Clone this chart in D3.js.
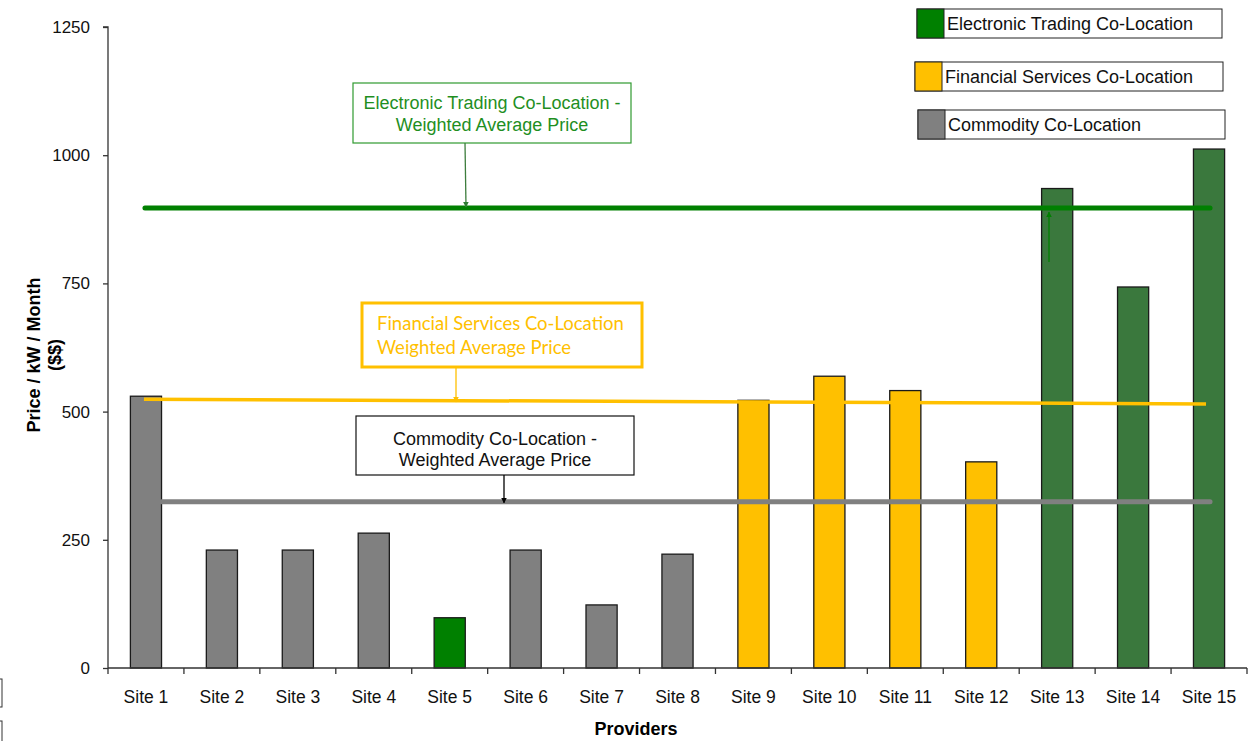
<!DOCTYPE html>
<html>
<head>
<meta charset="utf-8">
<script src="https://cdn.jsdelivr.net/npm/d3@7"></script>
<style>
  body { margin: 0; background: #fff; }
  svg { font-family: "Liberation Sans", Arial, sans-serif; }
</style>
</head>
<body>
<svg id="chart" width="1258" height="741"></svg>
<script>
// chart data
var sites = ["Site 1", "Site 2", "Site 3", "Site 4", "Site 5", "Site 6", "Site 7", "Site 8",
             "Site 9", "Site 10", "Site 11", "Site 12", "Site 13", "Site 14", "Site 15"];
var prices = [530, 230, 230, 263, 98, 230, 123, 222, 522, 569, 541, 402, 935, 743, 1012];
var siteType = ["com", "com", "com", "com", "et5", "com", "com", "com",
                "fin", "fin", "fin", "fin", "et", "et", "et"];
var yTicks = [0, 250, 500, 750, 1000, 1250];

var legendNames = ["Electronic Trading Co-Location", "Financial Services Co-Location", "Commodity Co-Location"];
// weighted average lines: start / end value
var avgElectronic = [897, 897];
var avgFinancial = [524, 515];
var avgCommodity = [324, 324];

var colors = { com: "#808080", fin: "#ffc000", et: "#3a783d", et5: "#008000" };
var legendColors = ["#008000", "#ffc000", "#808080"];

var svg = d3.select("#chart");
var margin = { top: 27, right: 11, bottom: 73, left: 108 };
var width = 1258, height = 741;
var FONT = "Liberation Sans, Arial, sans-serif";

var x = d3.scaleBand()
    .domain(sites)
    .range([margin.left, width - margin.right])
    .paddingInner(0.59)
    .paddingOuter(0.295);

var y = d3.scaleLinear()
    .domain([0, 1250])
    .range([height - margin.bottom, margin.top]);

var defs = svg.append("defs");
function marker(id, color) {
    defs.append("marker")
        .attr("id", id)
        .attr("viewBox", "0 0 10 10")
        .attr("refX", 9).attr("refY", 5)
        .attr("markerWidth", 4.5).attr("markerHeight", 4.5)
        .attr("orient", "auto")
        .append("path")
        .attr("d", "M0,0 L10,5 L0,10 Z")
        .attr("fill", color);
}
marker("arrGreen", "#2e7d32");
marker("arrGreen2", "#008000");
marker("arrYellow", "#ffc000");
marker("arrBlack", "#000");

// bars
svg.append("g").selectAll("rect")
    .data(sites)
    .enter()
    .append("rect")
    .attr("x", d => x(d))
    .attr("y", (d, i) => y(prices[i]))
    .attr("width", x.bandwidth())
    .attr("height", (d, i) => y(0) - y(prices[i]))
    .attr("fill", (d, i) => colors[siteType[i]])
    .attr("stroke", "#1a1a1a")
    .attr("stroke-width", 1.3);

// y axis
var yAxis = d3.axisLeft(y).tickValues(yTicks).tickFormat(d3.format("d")).tickSize(5).tickPadding(13);
var gy = svg.append("g")
    .attr("transform", `translate(${margin.left},0)`)
    .call(yAxis);
gy.select(".domain").attr("stroke", "#333").attr("stroke-width", 1.3)
    .attr("d", `M-5,${y(1250)}H0V${y(0)}`);
gy.selectAll(".tick line").attr("stroke", "#333").attr("stroke-width", 1.3);
gy.selectAll(".tick text").attr("font-size", 17).attr("fill", "#111")
    .attr("font-family", FONT);

// x axis: ticks between categories
var step = x.step();
var boundaries = d3.range(sites.length + 1).map(i => margin.left + i * step);
var gx = svg.append("g");
gx.append("line")
    .attr("x1", margin.left).attr("x2", width - margin.right)
    .attr("y1", y(0)).attr("y2", y(0))
    .attr("stroke", "#333").attr("stroke-width", 1.3);
gx.selectAll(".tk")
    .data(boundaries)
    .enter()
    .append("line")
    .attr("x1", d => d).attr("x2", d => d)
    .attr("y1", y(0)).attr("y2", y(0) + 6)
    .attr("stroke", "#333").attr("stroke-width", 1.3);
gx.selectAll(".lbl")
    .data(sites)
    .enter()
    .append("text")
    .attr("x", d => x(d) + x.bandwidth() / 2)
    .attr("y", y(0) + 35)
    .attr("text-anchor", "middle")
    .attr("font-size", 17.5)
    .attr("fill", "#111")
    .text(d => d);

// axis titles
svg.append("text")
    .attr("x", 636).attr("y", 735)
    .attr("text-anchor", "middle")
    .attr("font-size", 18).attr("font-weight", "bold")
    .text("Providers");
svg.append("text")
    .attr("transform", "translate(40,355) rotate(-90)")
    .attr("text-anchor", "middle")
    .attr("font-size", 18).attr("font-weight", "bold")
    .text("Price / kW / Month");
svg.append("text")
    .attr("transform", "translate(61,355) rotate(-90)")
    .attr("text-anchor", "middle")
    .attr("font-size", 18).attr("font-weight", "bold")
    .text("($$)");

// weighted average lines
var firstC = x(sites[0]) + x.bandwidth() / 2;
var lastC = x(sites[sites.length - 1]) + x.bandwidth() / 2;
svg.append("line")
    .attr("x1", firstC - 1).attr("x2", lastC + 1)
    .attr("y1", y(avgElectronic[0])).attr("y2", y(avgElectronic[1]))
    .attr("stroke", "#008000").attr("stroke-width", 5).attr("stroke-linecap", "round");
svg.append("line")
    .attr("x1", firstC - 2).attr("x2", lastC - 3)
    .attr("y1", y(avgFinancial[0])).attr("y2", y(avgFinancial[1]))
    .attr("stroke", "#ffc000").attr("stroke-width", 3.5);
svg.append("line")
    .attr("x1", x(sites[0]) + x.bandwidth()).attr("x2", lastC + 1)
    .attr("y1", y(avgCommodity[0])).attr("y2", y(avgCommodity[1]))
    .attr("stroke", "#808080").attr("stroke-width", 5).attr("stroke-linecap", "round");

// annotation callouts
function callout(o) {
    var g = svg.append("g");
    g.append("rect")
        .attr("x", o.x).attr("y", o.y).attr("width", o.w).attr("height", o.h)
        .attr("fill", "#fff").attr("stroke", o.stroke).attr("stroke-width", o.sw);
    o.lines.forEach(function(t, i) {
        g.append("text")
            .attr("x", o.anchor === "start" ? o.x + 15 : o.x + o.w / 2)
            .attr("y", o.y + o.ty + i * o.lh)
            .attr("text-anchor", o.anchor)
            .attr("font-size", o.fs)
            .attr("font-family", o.font)
            .attr("fill", o.color)
            .text(t);
    });
    g.append("line")
        .attr("x1", o.ax).attr("x2", o.ax2)
        .attr("y1", o.y + o.h).attr("y2", o.ay)
        .attr("stroke", o.arrowColor).attr("stroke-width", 1.3)
        .attr("marker-end", "url(#" + o.marker + ")");
}

callout({ x: 353, y: 83, w: 278, h: 60, stroke: "#2f9a2f", sw: 1.2,
    lines: ["Electronic Trading Co-Location -", "Weighted Average Price"],
    ty: 26, lh: 22, anchor: "middle", fs: 18, font: FONT,
    color: "#1f8f1f", ax: 465, ax2: 466, ay: y(avgElectronic[0]) - 1,
    arrowColor: "#3d7d3d", marker: "arrGreen" });

callout({ x: 362, y: 303, w: 280, h: 64, stroke: "#ffc000", sw: 3,
    lines: ["Financial Services Co-Location", "Weighted Average Price"],
    ty: 27, lh: 24, anchor: "start", fs: 18.5, font: "Lato, Carlito, sans-serif",
    color: "#ffc000", ax: 456, ax2: 456, ay: 402,
    arrowColor: "#ffc000", marker: "arrYellow" });

callout({ x: 356, y: 416, w: 278, h: 59, stroke: "#111", sw: 1.2,
    lines: ["Commodity Co-Location -", "Weighted Average Price"],
    ty: 29, lh: 21, anchor: "middle", fs: 18, font: FONT,
    color: "#111", ax: 504, ax2: 504, ay: y(avgCommodity[0]) + 1,
    arrowColor: "#000", marker: "arrBlack" });

// small arrow at site 13
svg.append("line")
    .attr("x1", 1049).attr("x2", 1049)
    .attr("y1", 262).attr("y2", y(avgElectronic[0]) + 4)
    .attr("stroke", "#008000").attr("stroke-width", 1.3)
    .attr("marker-end", "url(#arrGreen2)");

// legend
var legendPos = [{ x: 917, y: 9, w: 305 }, { x: 915, y: 62, w: 308 }, { x: 918, y: 110, w: 307 }];
var lg = svg.append("g").selectAll("g")
    .data(legendNames)
    .enter()
    .append("g");
lg.append("rect")
    .attr("x", (d, i) => legendPos[i].x).attr("y", (d, i) => legendPos[i].y)
    .attr("width", (d, i) => legendPos[i].w).attr("height", 29)
    .attr("fill", "#fff").attr("stroke", "#222").attr("stroke-width", 1);
lg.append("rect")
    .attr("x", (d, i) => legendPos[i].x).attr("y", (d, i) => legendPos[i].y)
    .attr("width", 27).attr("height", 29)
    .attr("fill", (d, i) => legendColors[i]).attr("stroke", "#222").attr("stroke-width", 1);
lg.append("text")
    .attr("x", (d, i) => legendPos[i].x + 30)
    .attr("y", (d, i) => legendPos[i].y + 21)
    .attr("font-size", 18)
    .attr("fill", "#111")
    .text(d => d);

// clipped box edges at the bottom-left
svg.append("rect").attr("x", -10).attr("y", 679).attr("width", 12).attr("height", 28)
    .attr("fill", "none").attr("stroke", "#333");
svg.append("rect").attr("x", -10).attr("y", 721).attr("width", 12).attr("height", 28)
    .attr("fill", "none").attr("stroke", "#333");
</script>
</body>
</html>
